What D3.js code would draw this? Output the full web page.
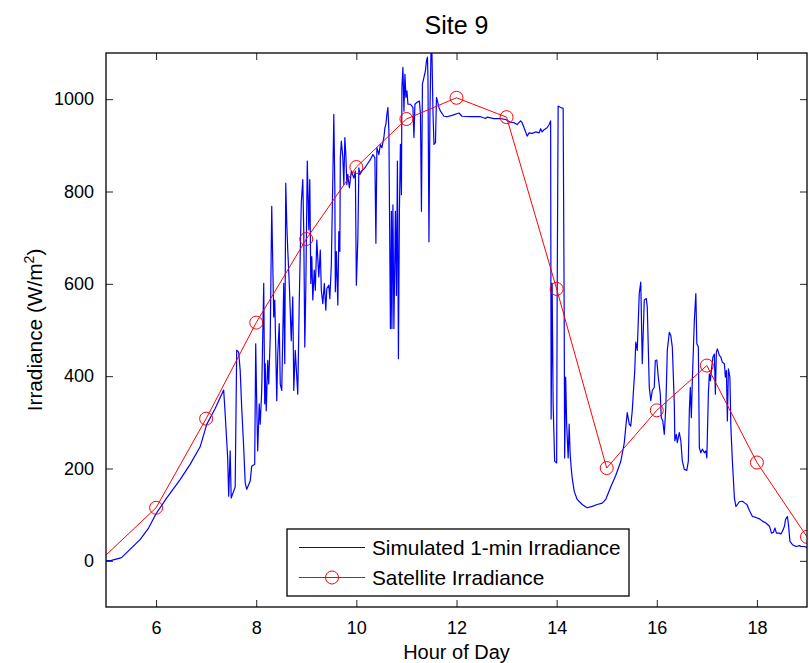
<!DOCTYPE html>
<html><head><meta charset="utf-8">
<script src="https://cdn.jsdelivr.net/npm/d3@7"></script>
<style>
html,body{margin:0;padding:0;background:#fff;}
text{font-family:"Liberation Sans",Arial,Helvetica,sans-serif;fill:#000;}
</style></head>
<body>
<svg id="chart" width="809" height="663"></svg>
<script>
// ---- data ----
const titleText = "Site 9";
const xLabel = "Hour of Day";
const yLabelMain = "Irradiance (W/m";
const xTicks = [6, 8, 10, 12, 14, 16, 18];
const yTicks = [0, 200, 400, 600, 800, 1000];
const xDomain = [5, 19];
const yDomain = [-100, 1100];

const satelliteHours  = [4, 6, 7, 8, 9, 10, 11, 12, 13, 14, 15, 16, 17, 18, 19];
const satelliteValues = [-90, 115, 308, 516, 697, 853, 957, 1003, 961, 589, 201, 326, 423, 213, 52];

// [hour, W/m2]
const simulatedReadings = [
[5.00,0],[5.11,1],[5.31,7],[5.68,46],[5.85,71],[6.00,102],[6.21,136],[6.48,176],[6.68,209],[6.88,247],[7.01,295],[7.18,330],[7.35,370],
[7.38,318],[7.43,223],[7.45,140],[7.48,238],[7.50,136],[7.55,151],[7.58,160],[7.61,456],[7.65,452],[7.68,412],[7.71,332],[7.75,245],[7.78,169],[7.81,155],[7.88,173],[7.91,205],[7.97,209],[7.99,470],[8.01,340],[8.03,238],[8.06,340],[8.08,296],[8.11,369],[8.15,601],[8.17,340],[8.18,427],[8.20,325],[8.23,434],[8.25,383],[8.28,485],[8.31,768],[8.35,528],[8.37,565],[8.38,514],[8.41,347],[8.43,448],[8.46,514],[8.48,383],[8.51,369],[8.55,601],[8.57,427],[8.59,818],[8.61,731],[8.63,673],[8.66,601],[8.70,477],[8.73,572],[8.75,369],[8.78,456],[8.81,398],[8.83,361],[8.86,565],[8.90,775],[8.93,826],[8.95,710],[8.97,463],[8.99,586],[9.02,866],[9.05,717],[9.07,826],[9.09,601],[9.11,659],[9.13,565],[9.16,630],[9.18,586],[9.21,695],[9.25,615],[9.28,673],[9.30,586],[9.33,557],[9.36,601],[9.39,543],[9.41,590],[9.45,597],[9.47,568],[9.50,641],
[9.53,829],[9.55,967],[9.57,808],[9.58,583],[9.60,670],[9.63,554],[9.65,713],[9.67,670],[9.68,873],[9.70,909],[9.73,873],[9.75,815],[9.77,917],[9.79,880],[9.81,815],[9.83,837],[9.86,808],[9.90,844],[9.95,829],[9.98,844],[10.00,597],[10.03,699],[10.05,851],[10.07,837],[10.11,844],[10.17,851],[10.21,858],[10.28,869],[10.33,880],[10.37,873],[10.39,688],[10.41,895],[10.45,880],[10.48,902],[10.51,895],[10.55,917],[10.57,938],[10.59,946],[10.61,967],[10.63,982],[10.65,931],[10.68,503],[10.70,757],[10.71,503],[10.73,771],[10.75,503],[10.78,757],[10.80,575],[10.82,866],[10.84,438],[10.86,757],[10.88,902],[10.90,793],[10.91,1025],[10.93,1069],[10.95,974],[10.97,1054],[10.99,1004],[11.01,1018],[11.03,989],[11.08,989],[11.13,982],[11.15,917],[11.17,989],[11.21,993],[11.26,996],[11.28,967],[11.30,757],[11.32,1033],[11.35,1047],[11.38,1062],[11.40,1083],[11.42,1091],[11.43,1047],[11.45,691],[11.47,974],[11.49,1098],[11.50,1099],[11.51,1098],[11.53,974],[11.55,902],[11.58,906],[11.60,1004],[11.62,996],[11.65,982],[11.68,974],
[11.75,963],[11.81,962],[11.91,965],[12.05,970],[12.11,963],[12.28,962],[12.48,962],[12.58,958],[12.61,961],[12.75,958],[12.88,958],[12.98,956],[13.08,950],[13.15,949],[13.21,945],[13.28,953],[13.31,949],[13.35,938],[13.41,920],[13.45,927],[13.51,926],[13.58,929],[13.65,927],[13.68,936],[13.71,929],[13.75,934],[13.81,938],[13.85,945],[13.88,953],
[13.89,307],[13.91,601],[13.93,340],[13.96,216],[14.00,212],[14.01,558],[14.03,985],[14.08,982],[14.13,980],[14.15,557],[14.16,223],[14.18,398],[14.20,296],[14.23,223],[14.25,296],[14.27,231],[14.29,202],[14.31,180],[14.35,151],[14.41,133],[14.51,122],[14.61,115],[14.71,118],[14.81,122],[14.91,125],[14.98,133],[15.08,160],[15.18,185],[15.28,215],[15.35,255],[15.38,289],[15.41,321],[15.45,296],[15.48,292],[15.51,325],[15.53,361],[15.56,412],[15.58,474],[15.61,456],[15.65,579],[15.68,604],[15.71,427],[15.75,565],[15.79,568],[15.81,550],[15.85,376],[15.88,347],[15.91,369],[15.95,376],[15.97,434],[16.00,435],[16.03,398],[16.07,361],[16.09,310],[16.12,303],[16.15,274],[16.18,332],[16.21,456],[16.25,495],[16.28,488],[16.31,463],[16.35,340],[16.36,260],[16.39,274],[16.41,256],[16.45,278],[16.48,260],[16.51,216],[16.55,198],[16.60,196],[16.63,216],[16.65,325],[16.67,376],[16.69,310],[16.71,390],[16.75,521],[16.78,579],[16.80,470],[16.83,463],[16.85,245],[16.88,234],[16.91,242],[16.95,234],[16.98,238],[17.00,223],[17.03,361],[17.05,405],[17.07,390],[17.09,412],[17.12,441],[17.15,448],[17.17,361],[17.19,452],[17.21,459],[17.25,445],[17.28,441],[17.31,430],[17.35,427],[17.37,398],[17.39,412],[17.41,303],[17.43,416],[17.46,398],[17.48,289],[17.51,216],[17.55,136],[17.58,118],[17.61,122],[17.65,128],[17.71,129],[17.76,125],[17.80,122],[17.85,109],[17.91,96],[17.98,94],[18.05,91],[18.11,86],[18.18,82],[18.25,75],[18.29,60],[18.33,62],[18.36,71],[18.39,60],[18.45,60],[18.48,58],[18.51,64],[18.55,75],[18.57,89],[18.59,93],[18.61,96],[18.63,78],[18.66,42],[18.71,35],[18.78,31],[18.85,33],[18.88,31],[18.95,31],[19.03,27]
];

const seriesNames = ["Simulated 1-min Irradiance", "Satellite Irradiance"];
const seriesColors = ["#0000ff", "#ff0000"];

// ---- layout ----
const margin = {left: 106, top: 53, right: 2, bottom: 56};
const W = 809, H = 663;
const iw = W - margin.left - margin.right;
const ih = H - margin.top - margin.bottom;

const svg = d3.select("#chart");
const g = svg.append("g").attr("transform", `translate(${margin.left},${margin.top})`);

const x = d3.scaleLinear().domain(xDomain).range([0, iw]);
const y = d3.scaleLinear().domain(yDomain).range([ih, 0]);

svg.append("defs").append("clipPath").attr("id", "clip")
  .append("rect").attr("x", 0).attr("y", 0).attr("width", iw).attr("height", ih);

const plot = g.append("g").attr("clip-path", "url(#clip)");

// simulated line
plot.append("path")
  .datum(simulatedReadings)
  .attr("fill", "none")
  .attr("stroke", seriesColors[0])
  .attr("stroke-width", 1.2)
  .attr("stroke-linejoin", "round")
  .attr("d", d3.line().x(d => x(d[0])).y(d => y(d[1])));

// satellite line + markers
const sat = satelliteHours.map((h, i) => [h, satelliteValues[i]]);
plot.append("path")
  .datum(sat)
  .attr("fill", "none")
  .attr("stroke", seriesColors[1])
  .attr("stroke-width", 1)
  .attr("d", d3.line().x(d => x(d[0])).y(d => y(d[1])));
plot.selectAll("circle.sat").data(sat).join("circle")
  .attr("class", "sat")
  .attr("cx", d => x(d[0])).attr("cy", d => y(d[1]))
  .attr("r", 6.5)
  .attr("fill", "none").attr("stroke", seriesColors[1]).attr("stroke-width", 1);

// axes (MATLAB style: ticks inward on all four sides)
const tickLen = 7;
const tickFont = "18px";
const labelFont = "20px";
const legendFont = "20.8px";
const xb = g.append("g").attr("transform", `translate(0,${ih})`)
  .call(d3.axisBottom(x).tickValues(xTicks).tickSizeInner(-tickLen).tickSizeOuter(0).tickPadding(14).tickFormat(d3.format("d")));
const xt = g.append("g")
  .call(d3.axisTop(x).tickValues(xTicks).tickSizeInner(-tickLen).tickSizeOuter(0).tickFormat(""));
const yl = g.append("g")
  .call(d3.axisLeft(y).tickValues(yTicks).tickSizeInner(-tickLen).tickSizeOuter(0).tickPadding(12).tickFormat(d3.format("d")));
const yr = g.append("g").attr("transform", `translate(${iw},0)`)
  .call(d3.axisRight(y).tickValues(yTicks).tickSizeInner(-tickLen).tickSizeOuter(0).tickFormat(""));
[xb, xt, yl, yr].forEach(a => {
  a.select(".domain").remove();
  a.selectAll(".tick line").attr("stroke", "#262626").attr("stroke-width", 1);
  a.selectAll(".tick text").style("font-size", tickFont).attr("fill", "#000")
    .style("font-family", '"Liberation Sans",Arial,sans-serif');
});

// box
g.append("rect").attr("x", 0).attr("y", 0).attr("width", iw).attr("height", ih)
  .attr("fill", "none").attr("stroke", "#000").attr("stroke-width", 1.3);

// title
svg.append("text").attr("x", margin.left + iw / 2).attr("y", 34)
  .attr("text-anchor", "middle").style("font-size", "25px").text(titleText);

// x label
svg.append("text").attr("x", margin.left + iw / 2).attr("y", 659)
  .attr("text-anchor", "middle").style("font-size", labelFont).text(xLabel);

// y label
const ylab = svg.append("text")
  .attr("transform", `translate(42,${margin.top + y(500)}) rotate(-90)`)
  .attr("text-anchor", "middle").style("font-size", "20.8px");
ylab.append("tspan").text(yLabelMain);
ylab.append("tspan").attr("dy", -8).style("font-size", "14px").text("2");
ylab.append("tspan").attr("dy", 8).text(")");

// legend
const lg = svg.append("g").attr("transform", "translate(287,529)");
lg.append("rect").attr("width", 342).attr("height", 67)
  .attr("fill", "#fff").attr("stroke", "#000").attr("stroke-width", 1.3);
const rows = [18.5, 48.5];
seriesNames.forEach((name, i) => {
  const row = lg.append("g").attr("transform", `translate(0,${rows[i]})`);
  row.append("line").attr("x1", 12).attr("x2", 78).attr("y1", 0).attr("y2", 0)
    .attr("stroke", seriesColors[i]).attr("stroke-width", 1);
  if (i === 1) {
    row.append("circle").attr("cx", 45).attr("cy", 0).attr("r", 6.5)
      .attr("fill", "none").attr("stroke", seriesColors[i]);
  }
  row.append("text").attr("x", 85).attr("y", 7).style("font-size", legendFont).text(name);
});
</script>
</body></html>
